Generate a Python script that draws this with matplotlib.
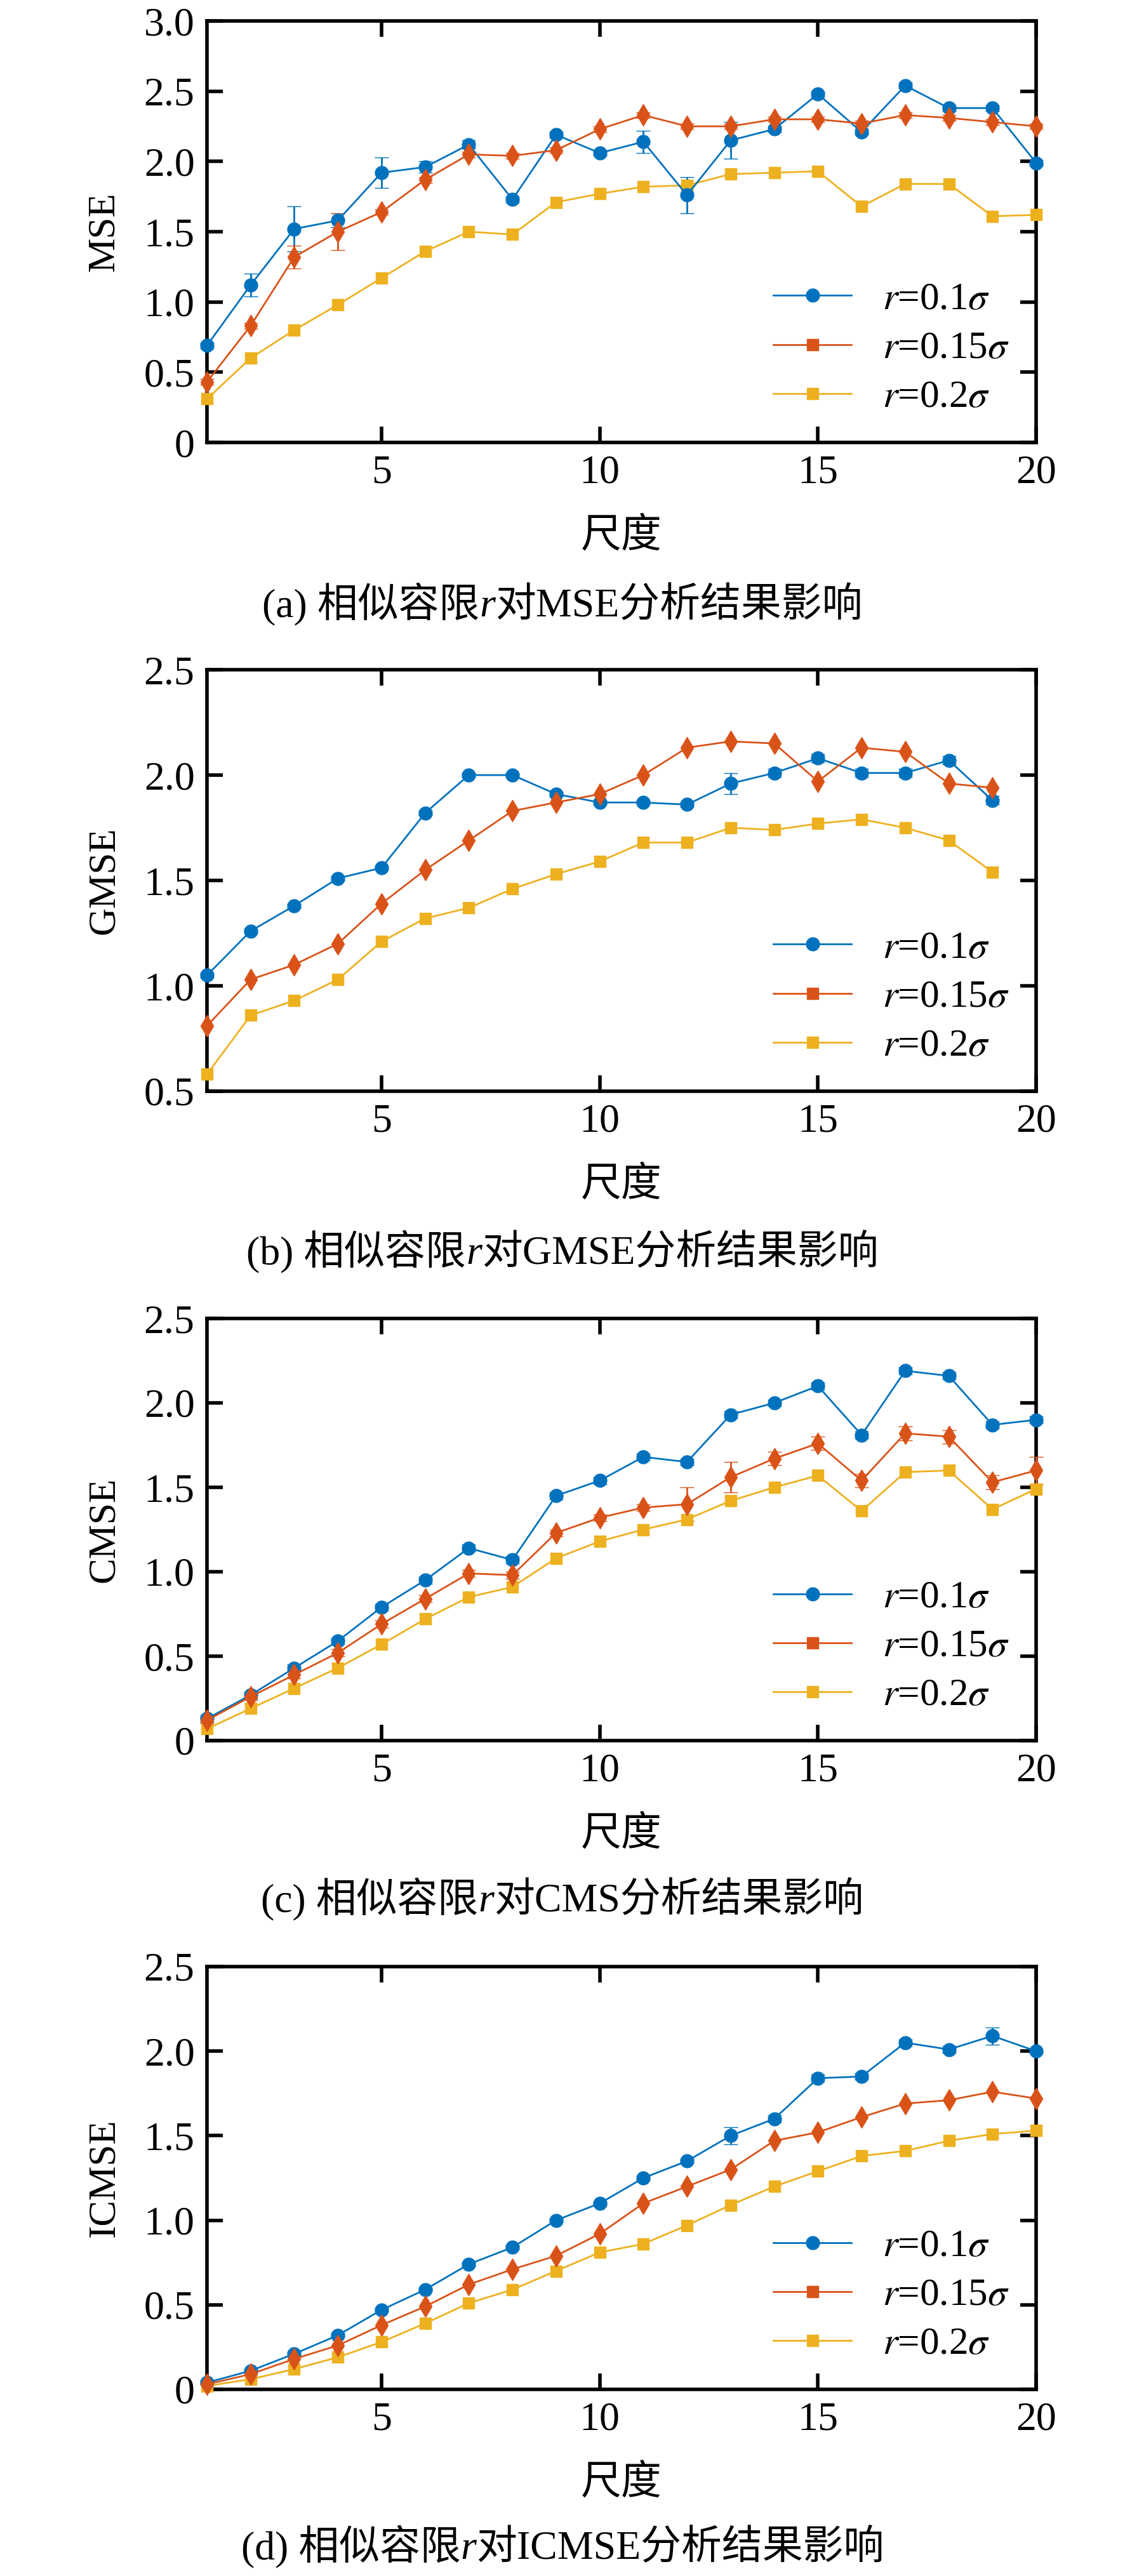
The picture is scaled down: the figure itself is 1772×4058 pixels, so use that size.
import numpy as np
import matplotlib
matplotlib.use('Agg')
import matplotlib.pyplot as plt
from matplotlib.lines import Line2D

plt.rcParams['font.family'] = ['Liberation Serif', 'Noto Sans CJK SC']
plt.rcParams['mathtext.fontset'] = 'stix'

scales = np.arange(1, 21)

mse_01 = [0.69, 1.12, 1.52, 1.58, 1.92, 1.96, 2.12, 1.73, 2.19, 2.06, 2.14, 1.76, 2.15, 2.23, 2.48, 2.21, 2.54, 2.38, 2.38, 1.99]
mse_01_err = [0.02, 0.08, 0.16, 0.05, 0.11, 0.04, 0.03, 0.02, 0.02, 0.02, 0.08, 0.13, 0.13, 0.02, 0.02, 0.02, 0.02, 0.02, 0.02, 0.02]
mse_015 = [0.43, 0.83, 1.32, 1.50, 1.64, 1.87, 2.05, 2.04, 2.08, 2.23, 2.33, 2.25, 2.25, 2.30, 2.30, 2.27, 2.33, 2.31, 2.28, 2.25]
mse_015_err = [0.02, 0.02, 0.08, 0.13, 0.02, 0.02, 0.02, 0.02, 0.02, 0.02, 0.02, 0.02, 0.02, 0.02, 0.02, 0.02, 0.02, 0.02, 0.02, 0.02]
mse_02 = [0.31, 0.60, 0.80, 0.98, 1.17, 1.36, 1.50, 1.48, 1.71, 1.77, 1.82, 1.83, 1.91, 1.92, 1.93, 1.68, 1.84, 1.84, 1.61, 1.62]

gmse_01 = [1.05, 1.26, 1.38, 1.51, 1.56, 1.82, 2.00, 2.00, 1.91, 1.87, 1.87, 1.86, 1.96, 2.01, 2.08, 2.01, 2.01, 2.07, 1.88]
gmse_01_err = [0.01] * 12 + [0.05] + [0.02] * 6
gmse_015 = [0.81, 1.03, 1.10, 1.20, 1.39, 1.55, 1.69, 1.83, 1.87, 1.91, 2.00, 2.13, 2.16, 2.15, 1.97, 2.13, 2.11, 1.96, 1.94]
gmse_02 = [0.58, 0.86, 0.93, 1.03, 1.21, 1.32, 1.37, 1.46, 1.53, 1.59, 1.68, 1.68, 1.75, 1.74, 1.77, 1.79, 1.75, 1.69, 1.54]

cmse_01 = [0.13, 0.27, 0.43, 0.59, 0.79, 0.95, 1.14, 1.07, 1.45, 1.54, 1.68, 1.65, 1.93, 2.00, 2.10, 1.81, 2.19, 2.16, 1.87, 1.90]
cmse_01_err = [0.02] * 20
cmse_015 = [0.12, 0.26, 0.39, 0.52, 0.69, 0.84, 0.99, 0.98, 1.23, 1.32, 1.38, 1.40, 1.56, 1.67, 1.76, 1.54, 1.82, 1.80, 1.53, 1.60]
cmse_015_err = [0.02] * 11 + [0.10, 0.09] + [0.04] * 6 + [0.08]
cmse_02 = [0.07, 0.19, 0.31, 0.43, 0.57, 0.72, 0.85, 0.91, 1.08, 1.18, 1.25, 1.31, 1.42, 1.50, 1.57, 1.36, 1.59, 1.60, 1.37, 1.49]

icmse_01 = [0.04, 0.11, 0.21, 0.32, 0.47, 0.59, 0.74, 0.84, 1.00, 1.10, 1.25, 1.35, 1.50, 1.60, 1.84, 1.85, 2.05, 2.01, 2.09, 2.00]
icmse_01_err = [0.01] * 12 + [0.05] + [0.02] * 5 + [0.05, 0.01]
icmse_015 = [0.03, 0.09, 0.18, 0.26, 0.38, 0.49, 0.62, 0.71, 0.79, 0.92, 1.10, 1.20, 1.30, 1.47, 1.52, 1.61, 1.69, 1.71, 1.76, 1.72]
icmse_02 = [0.02, 0.06, 0.12, 0.19, 0.28, 0.39, 0.51, 0.59, 0.70, 0.81, 0.86, 0.97, 1.09, 1.20, 1.29, 1.38, 1.41, 1.47, 1.51, 1.53]

BLUE, ORANGE, YELLOW = '#0072BD', '#D95319', '#EDB120'
W, H = 1772, 4058

panels = [
    ('MSE', (mse_01, mse_01_err), (mse_015, mse_015_err), mse_02, (0, 3.0), 33, 697, 955,
     ('(a) 相似容限', '对MSE分析结果影响')),
    ('GMSE', (gmse_01, gmse_01_err), (gmse_015, None), gmse_02, (0.5, 2.5), 1055, 1719, 1975,
     ('(b) 相似容限', '对GMSE分析结果影响')),
    ('CMSE', (cmse_01, cmse_01_err), (cmse_015, cmse_015_err), cmse_02, (0, 2.5), 2077, 2742, 2995,
     ('(c) 相似容限', '对CMS分析结果影响')),
    ('ICMSE', (icmse_01, icmse_01_err), (icmse_015, None), icmse_02, (0, 2.5), 3098, 3764, 4015,
     ('(d) 相似容限', '对ICMSE分析结果影响')),
]

fig = plt.figure(figsize=(W / 100, H / 100), dpi=100)
renderer = fig.canvas.get_renderer()
left, right = 326, 1632
for name, (b, be), (o, oe), y2, ylim, top, bot, cap_y, (cap1, cap2) in panels:
    ax = fig.add_axes([left / W, 1 - bot / H, (right - left) / W, (bot - top) / H])
    x = scales[:len(b)]
    ax.errorbar(x, b, yerr=be, color=BLUE, marker='o', ms=15, lw=2, capsize=8, elinewidth=2, clip_on=False, zorder=3)
    ax.errorbar(x, o, yerr=oe, color=ORANGE, marker='d', ms=17, lw=2, capsize=8, elinewidth=2, clip_on=False, zorder=3)
    ax.plot(x, y2, color=YELLOW, marker='s', ms=13, lw=2, clip_on=False, zorder=3)
    ax.set_xlim(1, 20)
    ax.set_ylim(*ylim)
    ax.set_xticks([5, 10, 15, 20])
    yt = np.arange(ylim[0], ylim[1] + 0.01, 0.5)
    ax.set_yticks(yt)
    ax.set_yticklabels(['0' if v == 0 else '%.1f' % v for v in yt])
    ax.tick_params(direction='in', top=True, right=True, length=18, width=4, labelsize=46, pad=14)
    for s in ax.spines.values():
        s.set_linewidth(4)
    ax.set_ylabel(name, fontsize=44, labelpad=25)
    ax.set_xlabel('尺度', fontsize=46, labelpad=30)
    handles = [Line2D([], [], color=BLUE, marker='o', ms=15, lw=2),
               Line2D([], [], color=ORANGE, marker='s', ms=13, lw=2),
               Line2D([], [], color=YELLOW, marker='s', ms=13, lw=2)]
    ax.legend(handles, [r'$r$=0.1$\sigma$', r'$r$=0.15$\sigma$', r'$r$=0.2$\sigma$'],
              loc='lower right', frameon=False, fontsize=44, handlelength=2.0,
              borderaxespad=0.3, labelspacing=0.35)

    # caption in three pieces so the CJK fallback works and r stays italic
    t1 = fig.text(0.3, 1 - cap_y / H, cap1, ha='left', va='baseline', fontsize=46)
    t2 = fig.text(0, 0, 'r', fontsize=46, style='italic', ha='left', va='baseline')
    t3 = fig.text(0, 0, cap2, fontsize=46, ha='left', va='baseline')
    w1 = t1.get_window_extent(renderer).width
    w2 = t2.get_window_extent(renderer).width
    w3 = t3.get_window_extent(renderer).width
    x0 = (W - (w1 + w2 + w3)) / 2
    yb = 1 - (cap_y + 16) / H
    t1.set_position((x0 / W, yb))
    t2.set_position(((x0 + w1) / W, yb))
    t3.set_position(((x0 + w1 + w2) / W, yb))

fig.savefig('out.png', dpi=100)
